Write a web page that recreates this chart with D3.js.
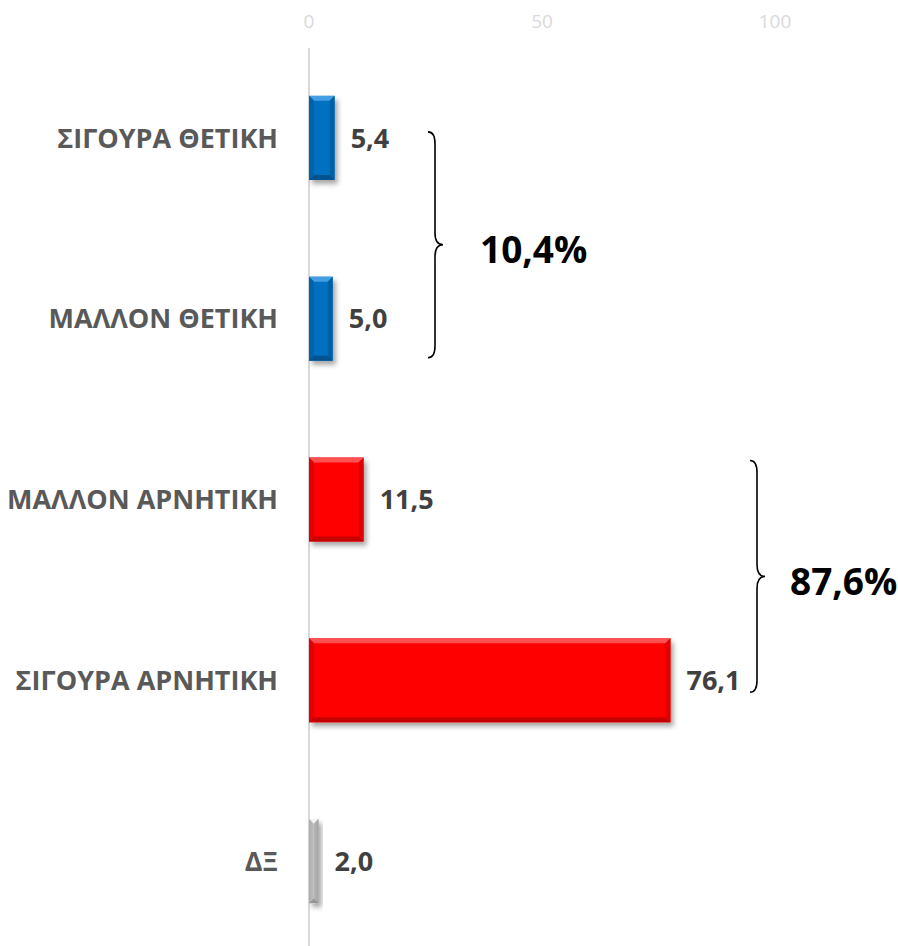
<!DOCTYPE html>
<html>
<head>
<meta charset="utf-8">
<script src="https://cdn.jsdelivr.net/npm/d3@7"></script>
<style>
  body { margin: 0; background: #fff; }
  svg { display: block; font-family: "Open Sans", "Noto Sans", sans-serif; }
</style>
</head>
<body>
<svg id="chart" width="898" height="946"></svg>
<script>
// data
var categories = ['ΣΙΓΟΥΡΑ ΘΕΤΙΚΗ', 'ΜΑΛΛΟΝ ΘΕΤΙΚΗ', 'ΜΑΛΛΟΝ ΑΡΝΗΤΙΚΗ', 'ΣΙΓΟΥΡΑ ΑΡΝΗΤΙΚΗ', 'ΔΞ'];
var values = [5.4, 5.0, 11.5, 76.1, 2.0];
var tones = ['blue', 'blue', 'red', 'red', 'grey'];
var tickValues = [0, 50, 100];
var groupLabels = ['10,4%', '87,6%'];
var groupMembers = [[0, 1], [2, 3]];

var W = 898, H = 946;
var svg = d3.select('#chart');

var x = d3.scaleLinear().domain([0, 100]).range([309, 784]);
var y = d3.scaleBand().domain(categories).range([47.6, 951.4]).paddingInner(0.535).paddingOuter(0.267);

var palette = {
    blue: { base: '#0070c0', light: '#4aa3e8', dark: '#00508a', edge: '#005c9e' },
    red: { base: '#ff0000', light: '#ff5a5a', dark: '#c00000', edge: '#d80000' },
    grey: { base: '#d0d0d0', light: '#f4f4f4', dark: '#8c8c8c', edge: '#a6a6a6' }
};

var defs = svg.append('defs');
defs.append('filter').attr('id', 'shadow')
    .attr('x', '-20%').attr('y', '-20%').attr('width', '160%').attr('height', '160%')
    .append('feDropShadow')
    .attr('dx', 3).attr('dy', 4).attr('stdDeviation', 2.5)
    .attr('flood-color', '#000').attr('flood-opacity', 0.35);

var greyGrad = defs.append('linearGradient').attr('id', 'greyfill')
    .attr('x1', 0).attr('x2', 1).attr('y1', 0).attr('y2', 0);
greyGrad.append('stop').attr('offset', 0).attr('stop-color', '#bdbdbd');
greyGrad.append('stop').attr('offset', 0.5).attr('stop-color', '#f2f2f2');
greyGrad.append('stop').attr('offset', 1).attr('stop-color', '#a0a0a0');

// top axis labels
svg.append('g').selectAll('text')
    .data(tickValues)
    .enter().append('text')
    .attr('x', function(d) { return x(d) - d * 0.09; })
    .attr('y', 28)
    .attr('text-anchor', 'middle')
    .attr('fill', '#d9d9d9')
    .style('font-size', '19px')
    .text(function(d) { return d; });

// vertical axis line
svg.append('line')
    .attr('x1', x(0)).attr('x2', x(0))
    .attr('y1', 48).attr('y2', H)
    .attr('stroke', '#d9d9d9').attr('stroke-width', 2);

// category labels
svg.append('g').selectAll('text')
    .data(categories)
    .enter().append('text')
    .attr('x', 278)
    .attr('y', function(d) { return y(d) + y.bandwidth() / 2; })
    .attr('dy', '0.36em')
    .attr('text-anchor', 'end')
    .attr('fill', '#595959')
    .style('font-size', '27px')
    .style('font-weight', 'bold')
    .text(function(d) { return d; });

// bars with bevel
var bevel = 5;
var bars = svg.append('g').selectAll('g')
    .data(values)
    .enter().append('g');

bars.append('rect')
    .attr('x', x(0))
    .attr('y', function(d, i) { return y(categories[i]); })
    .attr('width', function(d) { return x(d) - x(0); })
    .attr('height', y.bandwidth())
    .attr('fill', function(d, i) { return tones[i] == 'grey' ? 'url(#greyfill)' : palette[tones[i]].base; })
    .attr('filter', 'url(#shadow)');

bars.each(function(d, i) {
    var g = d3.select(this);
    var x0 = x(0), x1 = x(d), y0 = y(categories[i]), y1 = y0 + y.bandwidth();
    var b = Math.min(bevel, (x1 - x0) / 2);
    var c = palette[tones[i]];
    // top
    g.append('polygon')
        .attr('points', [[x0, y0], [x1, y0], [x1 - b, y0 + b], [x0 + b, y0 + b]].join(' '))
        .attr('fill', c.light).attr('opacity', 0.9);
    // left
    g.append('polygon')
        .attr('points', [[x0, y0], [x0 + b, y0 + b], [x0 + b, y1 - b], [x0, y1]].join(' '))
        .attr('fill', c.edge).attr('opacity', 0.7);
    // right
    g.append('polygon')
        .attr('points', [[x1, y0], [x1, y1], [x1 - b, y1 - b], [x1 - b, y0 + b]].join(' '))
        .attr('fill', c.edge).attr('opacity', 0.8);
    // bottom
    g.append('polygon')
        .attr('points', [[x0, y1], [x0 + b, y1 - b], [x1 - b, y1 - b], [x1, y1]].join(' '))
        .attr('fill', c.dark).attr('opacity', 0.9);
});

// value labels
var fmt = d3.format('.1f');
svg.append('g').selectAll('text')
    .data(values)
    .enter().append('text')
    .attr('x', function(d) { return x(d) + 16; })
    .attr('y', function(d, i) { return y(categories[i]) + y.bandwidth() / 2; })
    .attr('dy', '0.36em')
    .attr('fill', '#404040')
    .style('font-size', '27px')
    .style('font-weight', 'bold')
    .text(function(d) { return fmt(d).replace('.', ','); });

// braces for the two groups
var braceLayout = [
    { x0: 428, top: -6, bottom: 39, labelDx: 52 },
    { x0: 750, top: -39, bottom: 12, labelDx: 40 }
];

function bracePath(x0, yTop, yBot, yTip) {
    var x1 = x0 + 7, xt = x0 + 15, r = 12;
    return 'M' + x0 + ',' + yTop +
        ' Q' + x1 + ',' + yTop + ' ' + x1 + ',' + (yTop + r) +
        ' L' + x1 + ',' + (yTip - r) +
        ' Q' + x1 + ',' + yTip + ' ' + xt + ',' + yTip +
        ' Q' + x1 + ',' + yTip + ' ' + x1 + ',' + (yTip + r) +
        ' L' + x1 + ',' + (yBot - r) +
        ' Q' + x1 + ',' + yBot + ' ' + x0 + ',' + yBot;
}

groupMembers.forEach(function(m, k) {
    var L = braceLayout[k];
    var yTop = y(categories[m[0]]) + y.bandwidth() / 2 + L.top;
    var yBot = y(categories[m[m.length - 1]]) + y.bandwidth() / 2 + L.bottom;
    var yTip = (yTop + yBot) / 2;
    svg.append('path')
        .attr('d', bracePath(L.x0, yTop, yBot, yTip))
        .attr('fill', 'none')
        .attr('stroke', '#000')
        .attr('stroke-width', 1.6);
    svg.append('text')
        .attr('x', L.x0 + L.labelDx)
        .attr('y', yTip + 5)
        .attr('dy', '0.36em')
        .attr('fill', '#000')
        .style('font-size', '37px')
        .style('font-weight', 'bold')
        .text(groupLabels[k]);
});
</script>
</body>
</html>
